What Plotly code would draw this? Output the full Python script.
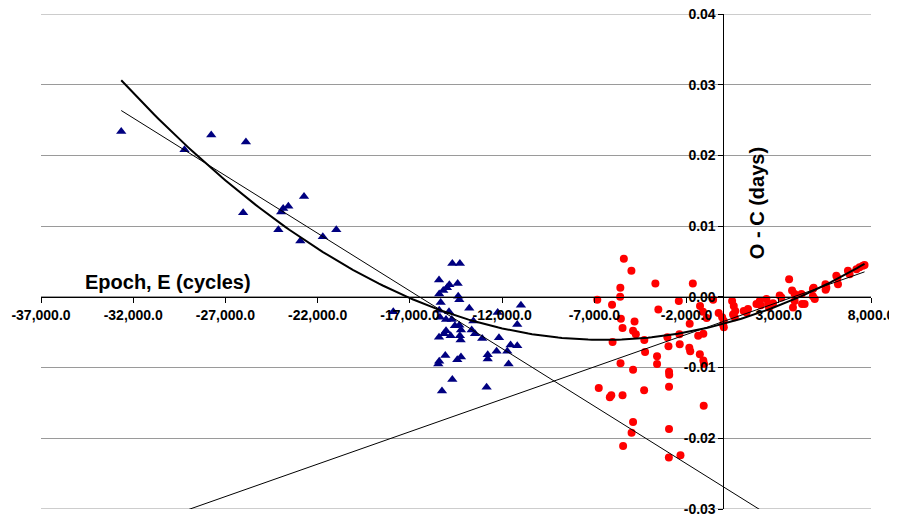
import numpy as np
import plotly.graph_objects as go

# ---- data (epoch E in cycles, O-C in days) ----
blue_E = [-32650, -29220, -27770, -25890, -26040, -24130, -23980, -23870, -23590, -22740, -22940, -21720, -20990, -17900,
          -14700, -14290, -15420, -14860, -14410, -15190, -14990, -15410, -14380, -14320, -15330, -13780, -15410, -14880,
          -10980, -12240, -15370, -15040, -14730, -13560, -11180, -14560, -14320, -15040, -14230, -13650, -15150, -14790,
          -14290, -13470, -15420, -14250, -13080, -12170, -11540, -11180, -12300, -11720, -12780, -12780, -15080, -14230,
          -14430, -15410, -15460, -11650, -14700, -15260, -12840]
blue_oc = [0.0234, 0.0208, 0.0229, 0.0219, 0.0119, 0.0095, 0.0120, 0.0125, 0.0128, 0.0142, 0.0079, 0.0085, 0.0095, -0.0021,
           0.0047, 0.0047, 0.0024, 0.0017, 0.0019, 0.0009, 0.0013, 0.0004, 0.0001, -0.0004, -0.0008, -0.0016, -0.0019, -0.0021,
           -0.0012, -0.0022, -0.0029, -0.0032, -0.0032, -0.0034, -0.0039, -0.0041, -0.0040, -0.0048, -0.0047, -0.0047, -0.0052,
           -0.0055, -0.0055, -0.0052, -0.0057, -0.0061, -0.0059, -0.0058, -0.0068, -0.0069, -0.0077, -0.0077, -0.0082, -0.0088,
           -0.0083, -0.0085, -0.0089, -0.0091, -0.0095, -0.0095, -0.0117, -0.0133, -0.0128]

red_E = [-6840, -6760, -6160, -6080, -6040, -6010, -5600, -5590, -5580, -5560, -5470, -5470, -5440, -5400, -4990, -4980,
         -4900, -4900, -4900, -4820, -4750, -4290, -4300, -4250, -3690, -3600, -3600, -3530, -3040, -2980, -2950, -2940,
         -2950, -2950, -2960, -2420, -2390, -2370, -2330, -1850, -1800, -1830, -1660, -1370, -1270, -1280, -1110, -1090,
         -1090, -1050, -1070, -910, -560,
         -260, -70, 20, -20, 20,
         470, 560, 640, 520, 610, 1100, 1250, 1330, 1790, 1970, 2020, 2330, 2420, 2470, 2690, 3050, 3140, 3560, 3720,
         3860, 3860, 3770, 4230, 4260, 4400, 4850, 4850, 4950, 4890, 5530, 5580, 5540, 6180, 6210, 6120, 6750, 6840,
         7210, 7380, 7560, 7650]
red_oc = [-0.0004, -0.0129, -0.0142, -0.0139, -0.0011, -0.0064, 0.0000, 0.0013, -0.0094, -0.0031, -0.0044, -0.0139,
          -0.0211, 0.0054, 0.0037, -0.0192, -0.0177, -0.0048, -0.0103, -0.0035, -0.0053, -0.0061, -0.0132, -0.0078,
          0.0019, -0.0084, -0.0095, -0.0018, -0.0057, -0.0070, -0.0106, -0.0110, -0.0127, -0.0187, -0.0227, -0.0006,
          -0.0053, -0.0067, -0.0224, -0.0072, -0.0077, -0.0038, 0.0019, -0.0055, -0.0013, -0.0081, -0.0021, -0.0052,
          -0.0090, -0.0095, -0.0154, -0.0030, -0.0004,
          -0.0023, -0.0029, -0.0034, -0.0039, -0.0043,
          -0.0006, -0.0013, -0.0020, -0.0025, -0.0029, -0.0020, -0.0022, -0.0017, -0.0010, -0.0006, -0.0012, -0.0003,
          -0.0010, -0.0015, -0.0009, 0.0002, -0.0001, 0.0025, 0.0009, 0.0004, -0.0006, -0.0015, 0.0004, -0.0010,
          -0.0010, 0.0011, 0.0001, -0.0003, 0.0013, 0.0018, 0.0013, 0.0010, 0.0027, 0.0018, 0.0030, 0.0037, 0.0032,
          0.0039, 0.0042, 0.0044, 0.0045]

# trendline coefficients, highest power first
quad_coef = [5.37e-11, 6.986e-7, -0.003813]
quad_span = [-32650, 7650]
blue_lin_coef = [-1.63e-6, -0.02687]
blue_lin_span = [-32650, 8000]
red_lin_coef = [9.17e-7, -0.00348]
red_lin_span = [-37000, 7650]

x_ticks = [-37000, -32000, -27000, -22000, -17000, -12000, -7000, -2000, 3000, 8000]
x_ticktext = ["-37,000.0", "-32,000.0", "-27,000.0", "-22,000.0", "-17,000.0",
              "-12,000.0", "-7,000.0", "-2,000.0", "3,000.0", "8,000.0"]
y_ticks = [-0.03, -0.02, -0.01, 0.0, 0.01, 0.02, 0.03, 0.04]
y_ticktext = ["-0.03", "-0.02", "-0.01", "0.00", "0.01", "0.02", "0.03", "0.04"]

x_range = [-37000, 8000]
y_range = [-0.03, 0.04]

FONT = "Liberation Sans, Arial, sans-serif"
GRID = "#9a9a9a"

fig = go.Figure()
fig.add_trace(go.Scatter(x=blue_E, y=blue_oc, mode="markers",
                         marker=dict(symbol="triangle-up", size=9, color="#000080", line=dict(width=0)),
                         showlegend=False))
fig.add_trace(go.Scatter(x=red_E, y=red_oc, mode="markers",
                         marker=dict(symbol="circle", size=8, color="#FF0000", line=dict(width=0)),
                         showlegend=False))

def curve(coef, span, n=200):
    e = np.linspace(span[0], span[1], n)
    return e, np.polyval(coef, e)

ex, ey = curve(quad_coef, quad_span)
fig.add_trace(go.Scatter(x=ex, y=ey, mode="lines", line=dict(color="black", width=2), showlegend=False))
ex, ey = curve(blue_lin_coef, blue_lin_span, 2)
fig.add_trace(go.Scatter(x=ex, y=ey, mode="lines", line=dict(color="black", width=1), showlegend=False))
ex, ey = curve(red_lin_coef, red_lin_span, 2)
fig.add_trace(go.Scatter(x=ex, y=ey, mode="lines", line=dict(color="black", width=1), showlegend=False))

x_pos = (0 - y_range[0]) / (y_range[1] - y_range[0])
y_pos = (0 - x_range[0]) / (x_range[1] - x_range[0])

tickfont = dict(family=FONT, size=14, color="black", weight="bold")

# gridlines at the two range ends (plotly skips these)
edge_shapes = [dict(type="line", xref="paper", x0=0, x1=1, yref="y", y0=v, y1=v,
                    line=dict(color=GRID, width=1), layer="below")
               for v in (y_range[0], y_range[1])]

# the page body adds an 8px offset, so the figure is 8px smaller than the window
fig.update_layout(
    width=889, height=509,
    margin=dict(l=32.7, r=25.6, t=6, b=8.3, autoexpand=False),
    paper_bgcolor="white", plot_bgcolor="white",
    xaxis=dict(range=x_range, anchor="free", position=x_pos, showgrid=False, zeroline=False,
               automargin=False, ticklabeloverflow="allow",
               showline=True, linecolor="black", linewidth=1,
               ticks="outside", ticklen=5, tickcolor="black",
               tickvals=x_ticks, ticktext=x_ticktext, tickfont=tickfont),
    yaxis=dict(range=y_range, anchor="free", position=y_pos, side="left",
               automargin=False, ticklabeloverflow="allow",
               showgrid=True, gridcolor=GRID, gridwidth=1, zeroline=False,
               showline=True, linecolor="black", linewidth=1,
               ticks="outside", ticklen=5, tickcolor="black",
               tickvals=y_ticks, ticktext=y_ticktext, tickfont=tickfont),
    shapes=edge_shapes,
    annotations=[
        dict(x=-30100, y=0.0021, xref="x", yref="y", text="Epoch, E (cycles)", showarrow=False,
             xanchor="center", yanchor="middle",
             font=dict(family=FONT, size=20, color="black", weight="bold")),
        dict(x=1800, y=0.0132, xref="x", yref="y", text="O - C (days)", showarrow=False,
             textangle=-90, xanchor="center", yanchor="middle",
             font=dict(family=FONT, size=20, color="black", weight="bold")),
    ],
)

fig.write_html("out.html")
